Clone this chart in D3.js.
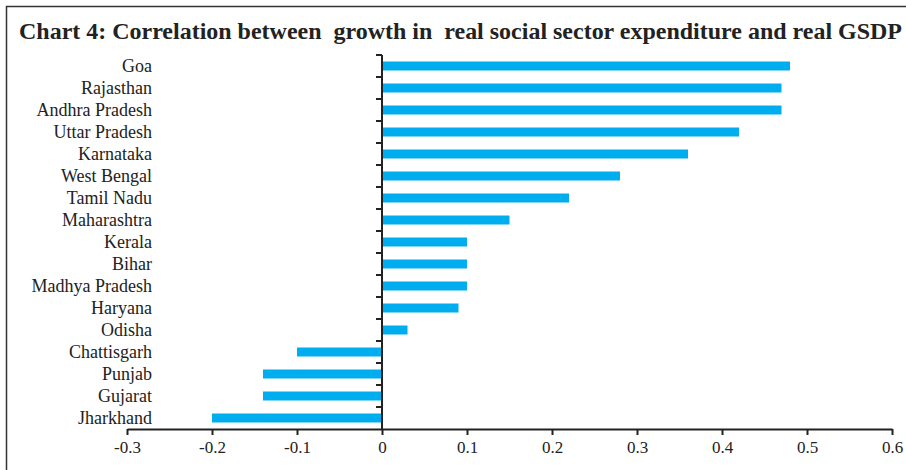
<!DOCTYPE html>
<html>
<head>
<meta charset="utf-8">
<script src="https://cdn.jsdelivr.net/npm/d3@7"></script>
<style>
  html, body { margin: 0; padding: 0; background: #fff; }
  svg { display: block; }
</style>
</head>
<body>
<svg id="chart" width="906" height="470"></svg>
<script>
// States, ordered top to bottom
const states = [
  "Goa", "Rajasthan", "Andhra Pradesh", "Uttar Pradesh", "Karnataka",
  "West Bengal", "Tamil Nadu", "Maharashtra", "Kerala", "Bihar",
  "Madhya Pradesh", "Haryana", "Odisha", "Chattisgarh", "Punjab",
  "Gujarat", "Jharkhand"
];
// Correlation coefficient for each state
const correlation = [
  0.48, 0.47, 0.47, 0.42, 0.36,
  0.28, 0.22, 0.15, 0.10, 0.10,
  0.10, 0.09, 0.03, -0.10, -0.14,
  -0.14, -0.20
];
const xTicks = [-0.3, -0.2, -0.1, 0, 0.1, 0.2, 0.3, 0.4, 0.5, 0.6];
const xTickLabels = ["-0.3", "-0.2", "-0.1", "0", "0.1", "0.2", "0.3", "0.4", "0.5", "0.6"];
const titleText = "Chart 4: Correlation between\u00a0 growth in\u00a0 real social sector expenditure and real GSDP";

const data = states.map((s, i) => ({ state: s, value: correlation[i] }));

const svg = d3.select("#chart");
const serif = "'Liberation Serif', 'Times New Roman', serif";

// Frame
svg.append("path")
  .attr("d", "M6.5,470 V6.5 H906")
  .attr("fill", "none")
  .attr("stroke", "#333")
  .attr("stroke-width", 1.5);

// Title
svg.append("text")
  .attr("x", 19)
  .attr("y", 39)
  .attr("font-family", serif)
  .attr("font-weight", "bold")
  .attr("font-size", 23)
  .attr("fill", "#222")
  .attr("textLength", 883)
  .attr("lengthAdjust", "spacingAndGlyphs")
  .text(titleText);

const x = d3.scaleLinear().domain([-0.3, 0.6]).range([127, 892]);
const band = d3.scaleBand().domain(states).range([55, 429]);

// Bars
svg.append("g")
  .selectAll("rect")
  .data(data)
  .join("rect")
  .attr("x", d => x(Math.min(0, d.value)))
  .attr("width", d => Math.abs(x(d.value) - x(0)))
  .attr("y", d => band(d.state) + band.bandwidth() / 2 - 4.5)
  .attr("height", 9)
  .attr("fill", "#00AEEF");

// Category axis at zero: ticks on band boundaries
const yAxisG = svg.append("g").attr("transform", `translate(${x(0)},0)`);
yAxisG.append("line")
  .attr("x1", 0).attr("x2", 0)
  .attr("y1", 55).attr("y2", 429)
  .attr("stroke", "#222").attr("stroke-width", 2);
yAxisG.selectAll("line.tick")
  .data(states)
  .join("line")
  .attr("class", "tick")
  .attr("x1", -6).attr("x2", 0)
  .attr("y1", d => band(d)).attr("y2", d => band(d))
  .attr("stroke", "#222").attr("stroke-width", 2);

// Category labels
svg.append("g")
  .selectAll("text")
  .data(states)
  .join("text")
  .attr("x", 152)
  .attr("y", d => band(d) + band.bandwidth() / 2)
  .attr("dy", "0.34em")
  .attr("text-anchor", "end")
  .attr("font-family", serif)
  .attr("font-size", 18)
  .attr("fill", "#222")
  .text(d => d);

// Value axis
const xAxis = d3.axisBottom(x)
  .tickValues(xTicks)
  .tickSize(6)
  .tickSizeOuter(0)
  .tickFormat((d, i) => xTickLabels[i]);
const xAxisG = svg.append("g")
  .attr("transform", "translate(0,429)")
  .call(xAxis);
xAxisG.select(".domain").attr("stroke", "#222").attr("stroke-width", 2);
xAxisG.selectAll(".tick line").attr("stroke", "#222").attr("stroke-width", 2);
xAxisG.selectAll(".tick text")
  .attr("y", 12)
  .attr("font-family", serif)
  .attr("font-size", 17)
  .attr("fill", "#222");
</script>
</body>
</html>
